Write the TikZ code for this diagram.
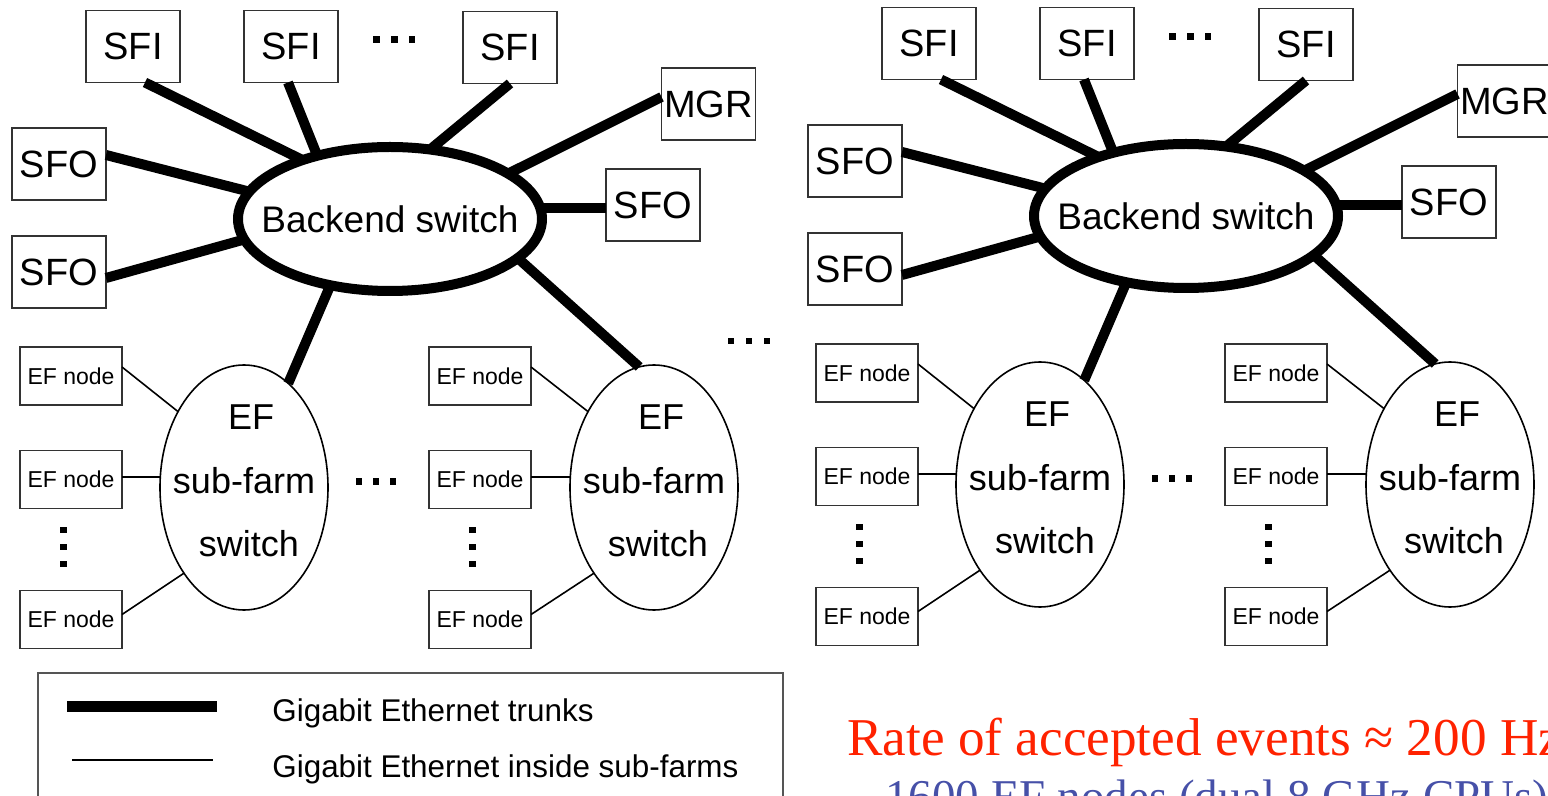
\documentclass[tikz,border=0pt]{standalone}
\usepackage{fontspec}
\setmainfont{Liberation Sans}
\newfontfamily\serifrm{Liberation Serif}
\usetikzlibrary{shapes.geometric,calc}
\definecolor{redtxt}{HTML}{FF2200}
\definecolor{bluetxt}{HTML}{4650A8}
\definecolor{boxline}{HTML}{333333}
\definecolor{legline}{HTML}{555555}
\tikzset{
 box/.style={draw=boxline, line width=0.7pt, inner sep=0pt, outer sep=0pt, minimum width=47pt, minimum height=36pt, font=\fontsize{19}{22}\selectfont},
 efbox/.style={draw=boxline, line width=0.7pt, inner sep=0pt, outer sep=0pt, minimum width=51pt, minimum height=29pt, font=\fontsize{11.5}{13}\selectfont},
 trunk/.style={line width=5pt},
 finelink/.style={line width=0.8pt},
 bkell/.style={ellipse, draw, line width=5pt, inner sep=0pt, outer sep=0pt, minimum width=152pt, minimum height=72pt},
 bktext/.style={inner sep=0pt, font=\fontsize{18.5}{22}\selectfont},
 sfell/.style={ellipse, draw, line width=0.8pt, inner sep=0pt, outer sep=0pt, minimum width=84pt, minimum height=122.5pt},
 sftext/.style={inner sep=0pt, font=\fontsize{18}{22}\selectfont},
 sqdot/.style={fill, inner sep=0pt, outer sep=0pt, minimum size=3.2pt}
}
\newcommand\netpart[1]{%
 \node[box] (#1sfi1) at (133,46.5) {SFI};
 \node[box] (#1sfi2) at (291,46.5) {SFI};
 \node[box] (#1sfi3) at (510,47.5) {SFI};
 \node[box] (#1mgr) at (708.5,104) {MGR};
 \node[box] (#1sfoR) at (653,205) {SFO};
 \node[box] (#1sfoA) at (59,164) {SFO};
 \node[box] (#1sfoB) at (59,272) {SFO};
 \node[bkell] (#1bk) at (390,219) {};
 \node[bktext] (#1bkt) at (#1bk.center) {Backend switch};
 \node[sfell] (#1sw1) at (244,487.5) {};
 \node[sfell] (#1sw2) at (654,487.5) {};
 \node[sftext, anchor=base] (#1s1a) at (251,430) {EF};
 \node[sftext, anchor=base] (#1s1b) at (244,494) {sub-farm};
 \node[sftext, anchor=base] (#1s1c) at (249,556) {switch};
 \node[sftext, anchor=base] (#1s2a) at (661,430) {EF};
 \node[sftext, anchor=base] (#1s2b) at (654,494) {sub-farm};
 \node[sftext, anchor=base] (#1s2c) at (658,556) {switch};
 \node[efbox] (#1e11) at (71,376) {EF node};
 \node[efbox] (#1e12) at (71,479.5) {EF node};
 \node[efbox] (#1e13) at (71,619.5) {EF node};
 \node[efbox] (#1e21) at (480,376) {EF node};
 \node[efbox] (#1e22) at (480,479.5) {EF node};
 \node[efbox] (#1e23) at (480,619.5) {EF node};
 % dots
 \node[sqdot] (#1ta) at (376.5,39.5) {};
 \node[sqdot] (#1tb) at (394.5,39.5) {};
 \node[sqdot] (#1tc) at (412,39.5) {};
 \node[sqdot] (#1ma) at (359,481.5) {};
 \node[sqdot] (#1mb) at (376,481.5) {};
 \node[sqdot] (#1mc) at (393,481.5) {};
 \node[sqdot] (#1va) at (63.5,530) {};
 \node[sqdot] (#1vb) at (63.5,547) {};
 \node[sqdot] (#1vc) at (63.5,564) {};
 \node[sqdot] (#1wa) at (472.5,530) {};
 \node[sqdot] (#1wb) at (472.5,547) {};
 \node[sqdot] (#1wc) at (472.5,564) {};
 % trunks
 \draw[trunk] ([xshift=6pt]#1sfi1.south) -- (#1bk.146);
 \draw[trunk] ([xshift=-1.5pt]#1sfi2.south) -- (#1bk.139);
 \draw[trunk] (#1sfi3.south) -- (#1bk.60);
 \draw[trunk] ([yshift=3.5pt]#1mgr.west) -- (#1bk.21);
 \draw[trunk] (#1bk.4) -- (#1bk.4 -| #1sfoR.west);
 \draw[trunk] ([yshift=4.5pt]#1sfoA.east) -- (#1bk.169);
 \draw[trunk] ([yshift=-3pt]#1sfoB.east) -- (#1bk.188);
 \draw[trunk] (#1bk.228) -- (#1sw1.67);
 \draw[trunk] (#1bk.343) -- (#1sw2.97);
 % sub-farm links
 \draw[finelink] ([yshift=4.5pt]#1e11.east) -- (#1sw1.131);
 \draw[finelink] ([yshift=1.25pt]#1e12.east) -- ([yshift=1.25pt]#1e12.east -| #1sw1.west);
 \draw[finelink] ([yshift=2.5pt]#1e13.east) -- (#1sw1.235);
 \draw[finelink] ([yshift=4.5pt]#1e21.east) -- (#1sw2.131);
 \draw[finelink] ([yshift=1.25pt]#1e22.east) -- ([yshift=1.25pt]#1e22.east -| #1sw2.west);
 \draw[finelink] ([yshift=2.5pt]#1e23.east) -- (#1sw2.235);
}
\begin{document}
\begin{tikzpicture}[x=0.5pt,y=-0.5pt]
 \useasboundingbox (0,0) rectangle (1548,796);
 \fill[white] (0,0) rectangle (1548,796);
 \clip (0,0) rectangle (1548,796);
 \netpart{a}
 \begin{scope}[shift={(796,-3)}]
  \netpart{b}
 \end{scope}
 % extra dots (more sub-farms)
 \node[sqdot] (xa) at (731,341) {};
 \node[sqdot] (xb) at (749,341) {};
 \node[sqdot] (xc) at (767,341) {};
 % legend
 \node[draw=legline, line width=0.8pt, inner sep=0pt, outer sep=0pt, minimum width=372.5pt, minimum height=80pt, anchor=north west] (legend) at (38,673) {};
 \coordinate (lt1) at (67,706.5);
 \coordinate (lt2) at (217,706.5);
 \coordinate (lf1) at (72,760);
 \coordinate (lf2) at (213,760);
 \draw[line width=5.5pt] (lt1) -- (lt2);
 \draw[finelink] (lf1) -- (lf2);
 \node[anchor=base west, inner sep=0pt, font=\fontsize{15.7}{18}\selectfont] (lg1) at (272,721) {Gigabit Ethernet trunks};
 \node[anchor=base west, inner sep=0pt, font=\fontsize{15.7}{18}\selectfont] (lg2) at (272,777) {Gigabit Ethernet inside sub-farms};
 % summary text
 \node[anchor=base west, inner sep=0pt, text=redtxt, font=\serifrm\fontsize{26.6}{30}\selectfont] (rate) at (847,755) {Rate of accepted events ≈ 200 Hz};
 \node[anchor=base west, inner sep=0pt, text=bluetxt, font=\serifrm\fontsize{23.5}{28}\selectfont] (cpus) at (885,812) {1600 EF nodes (dual 8 GHz CPUs)};
\end{tikzpicture}
\end{document}
